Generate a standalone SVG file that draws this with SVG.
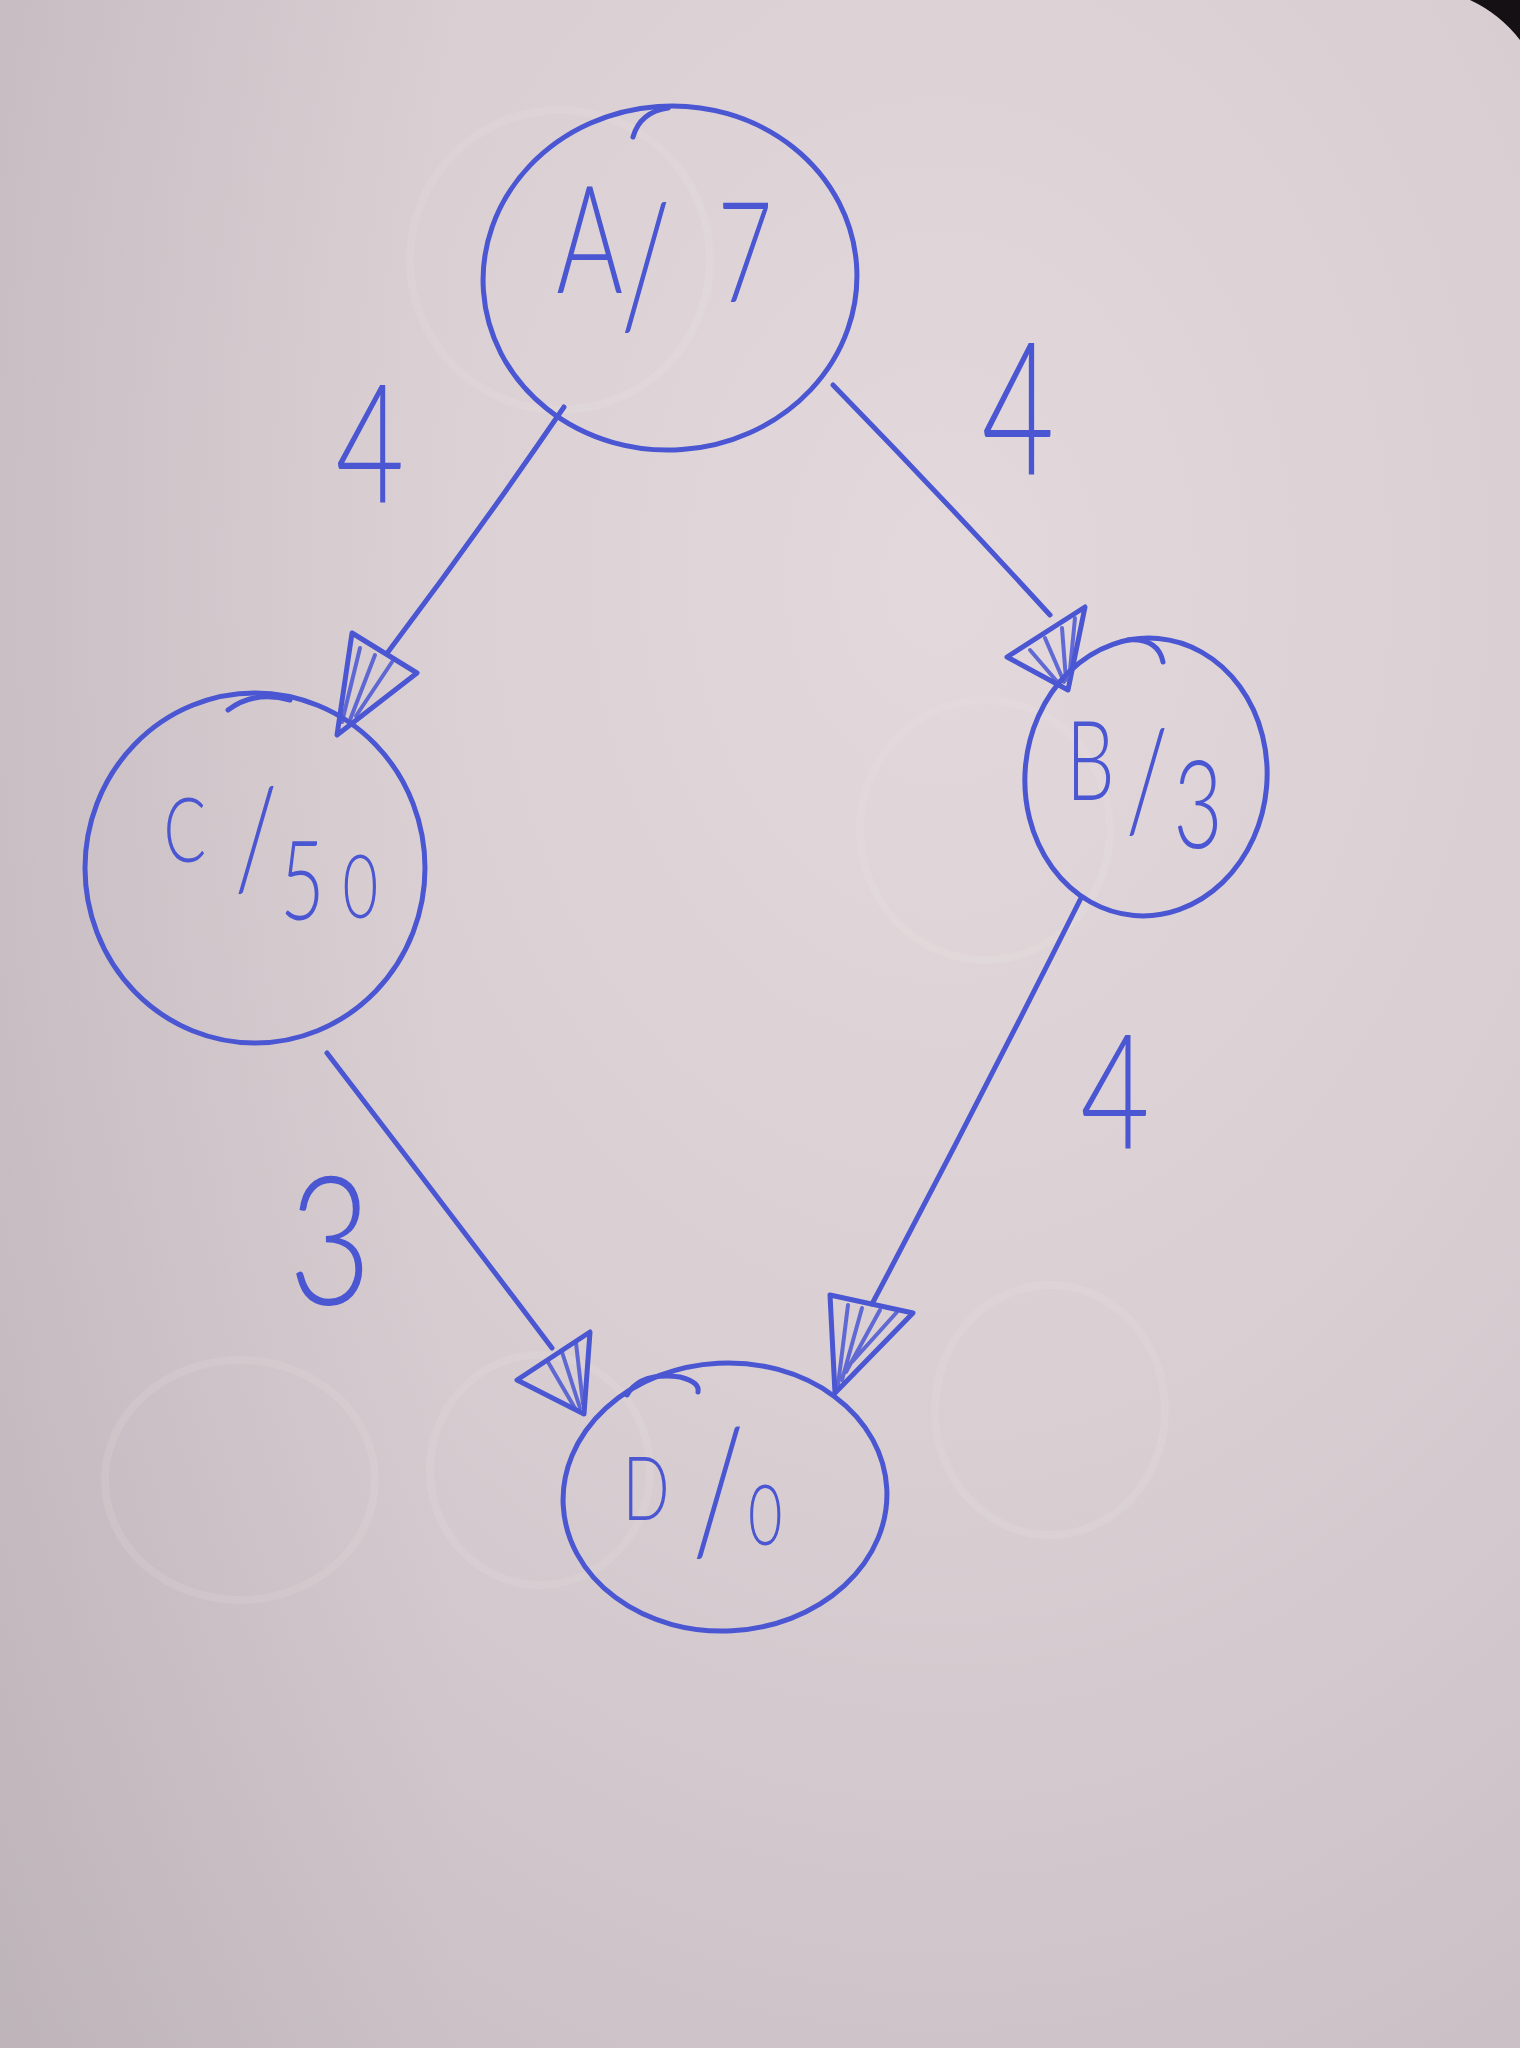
<svg xmlns="http://www.w3.org/2000/svg" width="1520" height="2048" viewBox="0 0 1520 2048">
  <defs>
    <radialGradient id="paper" cx="0.62" cy="0.28" r="0.95">
      <stop offset="0" stop-color="#e3d9dc"/>
      <stop offset="0.45" stop-color="#d9cfd3"/>
      <stop offset="1" stop-color="#c4bbc1"/>
    </radialGradient>
    <linearGradient id="shade" x1="0" y1="0" x2="1" y2="0">
      <stop offset="0" stop-color="#9a9096" stop-opacity="0.16"/>
      <stop offset="0.3" stop-color="#9a9096" stop-opacity="0"/>
    </linearGradient>
  </defs>
  <style>
    .ink { fill: none; stroke: #4a56d2; stroke-width: 5; stroke-linecap: round; stroke-linejoin: round; }
    .hatch { fill: none; stroke: #4a56d2; stroke-width: 4; stroke-linecap: round; opacity: 0.85; }
    .lbl { fill: #4a56d2; font-family: Lato, "Open Sans", "Liberation Sans", sans-serif; font-weight: 300; text-anchor: middle; }
    .emboss { fill: none; stroke: #f2eaec; stroke-width: 8; opacity: 0.14; }
  </style>

  <!-- paper -->
  <rect x="0" y="0" width="1520" height="2048" fill="url(#paper)"/>
  <rect x="0" y="0" width="1520" height="2048" fill="url(#shade)"/>
  <path d="M1470,0 L1520,0 L1520,40 Q1500,14 1470,0 Z" fill="#141014"/>

  <!-- faint impressions pressed through from another sheet -->
  <g id="impressions">
    <ellipse class="emboss" cx="560" cy="260" rx="150" ry="150"/>
    <ellipse class="emboss" cx="985" cy="830" rx="125" ry="130"/>
    <ellipse class="emboss" cx="240" cy="1480" rx="135" ry="120"/>
    <ellipse class="emboss" cx="540" cy="1470" rx="110" ry="115"/>
    <ellipse class="emboss" cx="1050" cy="1410" rx="115" ry="125"/>
  </g>

  <!-- connectors: shaft, open triangular head, hatching inside the head -->
  <g id="connectors">
    <g id="edge-A-C">
      <path class="ink" d="M564,407 Q480,530 388,652"/>
      <path class="ink" d="M352,633 L417,673 L337,735 Z"/>
      <path class="hatch" d="M360,648 L342,722 M375,655 L350,720 M392,662 L356,716"/>
    </g>
    <g id="edge-A-B">
      <path class="ink" d="M833,385 Q945,500 1050,615"/>
      <path class="ink" d="M1007,657 L1085,607 L1068,690 Z"/>
      <path class="hatch" d="M1030,650 L1060,685 M1045,638 L1064,682 M1062,628 L1066,680 M1075,618 L1070,670"/>
    </g>
    <g id="edge-C-D">
      <path class="ink" d="M327,1053 Q440,1200 552,1348"/>
      <path class="ink" d="M517,1380 L590,1332 L584,1414 Z"/>
      <path class="hatch" d="M548,1362 L576,1410 M562,1352 L580,1408 M576,1343 L583,1404"/>
    </g>
    <g id="edge-B-D">
      <path class="ink" d="M1081,898 Q980,1100 872,1304"/>
      <path class="ink" d="M830,1295 L913,1313 L835,1393 Z"/>
      <path class="hatch" d="M848,1305 L838,1385 M862,1308 L842,1380 M880,1310 L846,1372 M897,1312 L852,1362"/>
    </g>
  </g>

  <!-- edge weights -->
  <g id="weights">
    <text class="lbl" transform="matrix(0.72 0 0 1 370 0)" x="0" y="503" font-size="165">4</text>
    <text class="lbl" transform="matrix(0.68 0 0 1 1018 0)" x="0" y="475" font-size="185">4</text>
    <text class="lbl" transform="matrix(0.8 0 0 1 330 0)" x="0" y="1305" font-size="180">3</text>
    <text class="lbl" transform="matrix(0.75 0 0 1 1115 0)" x="0" y="1149" font-size="160">4</text>
  </g>

  <!-- nodes: name / heuristic (labels narrowed horizontally like the handwriting) -->
  <g id="node-A">
    <ellipse class="ink" cx="670" cy="278" rx="187" ry="172" transform="rotate(-4 670 278)"/>
    <path class="ink" d="M633,137 Q640,112 668,108"/>
    <text class="lbl" transform="matrix(0.68 0 0 1 670 0)"><tspan x="-118" y="293" font-size="150">A</tspan><tspan x="-36" y="326" font-size="170">/</tspan><tspan x="110" y="302" font-size="140">7</tspan></text>
  </g>
  <g id="node-B">
    <ellipse class="ink" cx="1146" cy="777" rx="121" ry="139" transform="rotate(5 1146 777)"/>
    <path class="ink" d="M1128,640 Q1158,638 1163,662"/>
    <text class="lbl" transform="matrix(0.7 0 0 1 1147 0)"><tspan x="-81" y="800" font-size="110">B</tspan><tspan x="0" y="830" font-size="140">/</tspan><tspan x="73" y="848" font-size="122">3</tspan></text>
  </g>
  <g id="node-C">
    <ellipse class="ink" cx="255" cy="868" rx="170" ry="175"/>
    <path class="ink" d="M228,710 Q255,690 290,700" stroke-width="8"/>
    <text class="lbl" transform="matrix(0.7 0 0 1 275 0)"><tspan x="-129" y="862" font-size="90">C</tspan><tspan x="-27" y="888" font-size="140">/</tspan><tspan x="39" y="920" font-size="110">5</tspan><tspan x="122" y="918" font-size="88">0</tspan></text>
  </g>
  <g id="node-D">
    <ellipse class="ink" cx="725" cy="1497" rx="162" ry="134" transform="rotate(-3 725 1497)"/>
    <path class="ink" d="M627,1395 Q640,1372 680,1377 Q700,1382 698,1392"/>
    <text class="lbl" transform="matrix(0.7 0 0 1 705 0)"><tspan x="-84" y="1520" font-size="88">D</tspan><tspan x="19" y="1552" font-size="172">/</tspan><tspan x="86" y="1545" font-size="85">0</tspan></text>
  </g>
</svg>
